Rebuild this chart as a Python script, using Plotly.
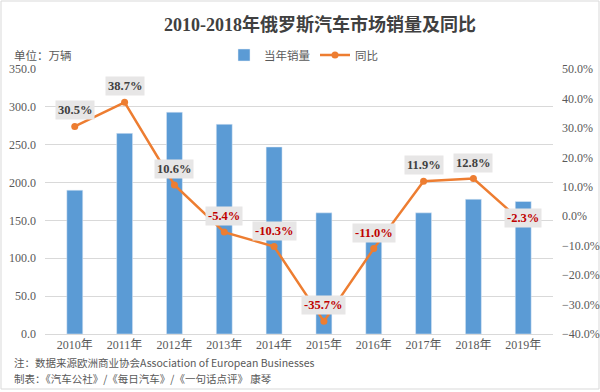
import plotly.graph_objects as go

years = ["2010年", "2011年", "2012年", "2013年", "2014年", "2015年", "2016年", "2017年", "2018年", "2019年"]
sales = [190, 265, 293, 277, 247, 160, 143, 160, 178, 175]
yoy = [30.5, 38.7, 10.6, -5.4, -10.3, -35.7, -11.0, 11.9, 12.8, -2.3]
yoy_labels = ["30.5%", "38.7%", "10.6%", "-5.4%", "-10.3%", "-35.7%", "-11.0%", "11.9%", "12.8%", "-2.3%"]
label_shift = [16, 16, 16, 16, 16, 16, 16, 16, 16, 5]

W, H = 600, 392
L, R, T, B = 45, 47, 69, 58
pw, ph = W - L - R, H - T - B

SERIF = "Liberation Serif, Times New Roman, Noto Sans CJK SC"
CJK = "Noto Sans CJK SC, Liberation Serif"
GREY = "#595959"

fig = go.Figure()
fig.add_trace(go.Bar(x=years, y=sales, name="当年销量", marker_color="#5b9bd5", yaxis="y"))
fig.add_trace(go.Scatter(x=years, y=yoy, name="同比", yaxis="y2", mode="lines+markers",
                         line=dict(color="#ed7d31", width=2.5),
                         marker=dict(color="#ed7d31", size=7)))

annos = []
for x, v, t, s in zip(years, yoy, yoy_labels, label_shift):
    annos.append(dict(x=x, y=v, xref="x", yref="y2", text=t, showarrow=False, yshift=s,
                      bgcolor="#e7e6e6", borderpad=2,
                      font=dict(family=SERIF, size=12.5, color="#c00000" if v < 0 else "#404040",
                                weight="bold")))

def px_x(p):
    return (p - L) / pw

def px_y(p):
    return (T + ph - p) / ph

annos.append(dict(x=px_x(12), y=px_y(55), xref="paper", yref="paper", xanchor="left", yanchor="middle",
                  text="单位：万辆", showarrow=False, font=dict(family=CJK, size=11.5, color=GREY)))
annos.append(dict(x=px_x(12), y=px_y(362), xref="paper", yref="paper", xanchor="left", yanchor="middle",
                  text="注：数据来源欧洲商业协会Association of European Businesses", showarrow=False,
                  font=dict(family="Noto Sans CJK SC", size=10.5, color=GREY)))
annos.append(dict(x=px_x(12), y=px_y(378), xref="paper", yref="paper", xanchor="left", yanchor="middle",
                  text="制表：《汽车公社》/《每日汽车》/《一句话点评》 康琴", showarrow=False,
                  font=dict(family="Noto Sans CJK SC", size=10.5, color=GREY)))

fig.update_layout(
    width=W, height=H,
    margin=dict(l=L, r=R, t=T, b=B, autoexpand=False),
    paper_bgcolor="white", plot_bgcolor="white",
    title=dict(text="2010-2018年俄罗斯汽车市场销量及同比", x=320 / W, y=1 - 25 / H,
               xanchor="center", yanchor="middle", xref="container", yref="container",
               font=dict(family=SERIF, size=18, color="#404040", weight="bold")),
    bargap=0.68,
    showlegend=True,
    legend=dict(orientation="h", xref="container", yref="container", x=224 / W, y=1 - 55 / H,
                xanchor="left", yanchor="middle", font=dict(family=CJK, size=11.5, color=GREY),
                itemwidth=30, traceorder="normal"),
    xaxis=dict(showgrid=False, showline=True, linecolor="#d9d9d9", linewidth=1, ticks="",
               automargin=False, tickfont=dict(family=SERIF, size=12, color=GREY)),
    yaxis=dict(range=[0, 350], dtick=50, tickformat=".1f", showgrid=True, gridcolor="#d9d9d9",
               gridwidth=1, zeroline=False, ticks="", ticklabelstandoff=8, automargin=False,
               tickfont=dict(family=SERIF, size=12, color=GREY)),
    yaxis2=dict(range=[-40, 50], dtick=10, tickformat=".1f", ticksuffix="%", overlaying="y",
                side="right", showgrid=False, zeroline=False, ticks="", ticklabelstandoff=8,
                automargin=False, tickfont=dict(family=SERIF, size=12, color=GREY)),
    annotations=annos,
    shapes=[dict(type="rect", xref="paper", yref="paper", x0=px_x(1), x1=px_x(599),
                 y0=px_y(389), y1=px_y(1), line=dict(color="#d9d9d9", width=1), layer="below")],
)

fig.write_html("out.html", config={"displayModeBar": False},
               post_script="document.body.style.margin='0';document.body.style.padding='0';")
